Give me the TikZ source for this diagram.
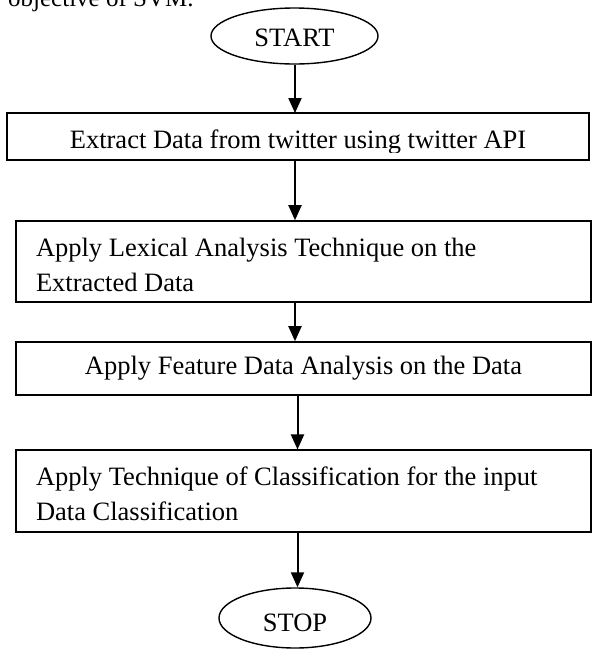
\documentclass[tikz,border=0pt]{standalone}
\usepackage{fontspec}
\setmainfont{Liberation Serif}
\usetikzlibrary{arrows.meta, shapes.geometric, positioning}

\newcommand{\flowfont}{\fontsize{26.5pt}{35pt}\selectfont}

\tikzset{
    terminal/.style={ellipse, draw, line width=1.4pt, inner sep=0pt, text depth=0pt, font=\flowfont},
    flowbox/.style={rectangle, draw, line width=1.6pt, inner xsep=20pt, font=\flowfont},
    twoline/.style={flowbox, minimum width=575pt, text width=535pt, align=flush left, text depth=29pt},
    flowarrow/.style={->, line width=2pt}
}

\begin{document}
\begin{tikzpicture}[x=1pt, y=-1pt, >={Triangle[length=15pt, width=13pt]}]

    % --- FRAME (same size as the page) ---
    \useasboundingbox (0,0) rectangle (592,649);
    \clip (0,0) rectangle (592,649);

    % page text cut off above the chart
    \node[anchor=base west, inner sep=0pt, font=\fontsize{25pt}{30pt}\selectfont] (pagetext) at (8,6) {objective of SVM.};

    % --- TERMINALS ---
    \node[terminal, minimum width=167pt, minimum height=56pt, text height=21.5pt] (start) at (294.5,36) {START};
    \node[terminal, minimum width=152pt, minimum height=60pt, text height=26pt] (stop) at (295,618) {STOP};

    % --- PROCESS BOXES ---
    % 1. Extract (descender of the text is cut by the box)
    \begin{scope}
        \clip (0,100) rectangle (592,152.5);
        \node[flowbox, draw=none, outer sep=0pt, anchor=base, minimum width=582pt, inner ysep=0pt, text height=35pt, text depth=12pt] (extract) at (298,148) {Extract Data from twitter using twitter API};
    \end{scope}
    \draw[line width=1.6pt] (extract.south west) rectangle (extract.north east);

    % 2. Lexical analysis
    \node[twoline, minimum height=81pt] (lexical) at (303.5,261.5) {Apply Lexical Analysis Technique on the\\Extracted Data};

    % 3. Feature analysis
    \node[flowbox, minimum width=575pt, minimum height=53pt] (feature) at (303.5,368.5) {Apply Feature Data Analysis on the Data};

    % 4. Classification
    \node[twoline, minimum height=81.5pt] (classify) at (303.5,491) {Apply Technique of Classification for the input\\Data Classification};

    % --- ARROWS ---
    \coordinate (spine) at (295,0); % upper arrows
    \coordinate (spinelow) at (297.5,0); % lower arrows
    \draw[flowarrow] (start.south -| spine) -- (extract.north -| spine);
    \draw[flowarrow] (extract.south -| spine) -- (lexical.north -| spine);
    \draw[flowarrow] (lexical.south -| spine) -- (feature.north -| spine);
    \draw[flowarrow] (feature.south -| spinelow) -- (classify.north -| spinelow);
    \draw[flowarrow] (classify.south -| spinelow) -- (stop.north -| spinelow);

\end{tikzpicture}
\end{document}
